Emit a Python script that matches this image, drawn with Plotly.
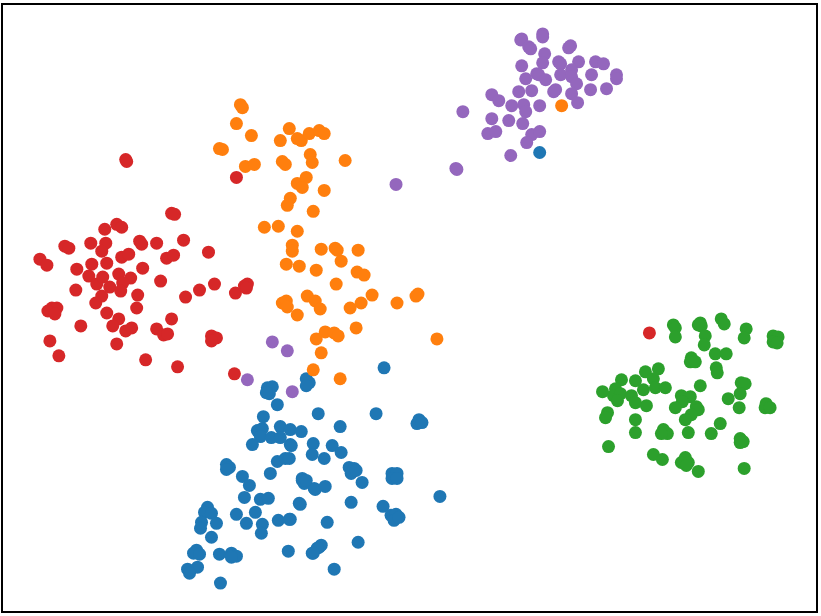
import plotly.graph_objects as go

# embedding coordinates (x right, y down)
blue_x = [268, 273, 270, 267, 307, 310, 307, 278, 264, 319, 258, 263, 261, 272, 281, 281, 291, 302,
          253, 291, 314, 313, 278, 286, 227, 230, 227, 271, 243, 250, 303, 305, 315, 245, 261, 269,
          300, 208, 205, 212, 237, 256, 247, 263, 262, 279, 291, 202, 201, 217, 212, 197, 194, 200,
          220, 232, 237, 232, 289, 313, 320, 188, 198, 190, 221, 385, 377, 420, 418, 423, 341, 292,
          325, 333, 342, 290, 350, 355, 352, 357, 363, 393, 398, 393, 398, 303, 307, 316, 326, 441,
          352, 301, 384, 392, 397, 395, 400, 290, 328, 359, 322, 318, 314, 335, 541]
blue_y = [387, 386, 393, 392, 378, 382, 385, 404, 416, 413, 430, 428, 436, 437, 426, 437, 429, 431,
          444, 444, 443, 454, 461, 458, 464, 467, 469, 473, 476, 485, 478, 483, 488, 497, 499, 498,
          503, 507, 512, 513, 514, 512, 523, 524, 533, 520, 519, 522, 528, 523, 537, 550, 553, 554,
          554, 553, 556, 557, 551, 553, 547, 569, 567, 573, 583, 367, 413, 419, 423, 422, 426, 445,
          458, 445, 452, 458, 467, 468, 473, 470, 482, 473, 473, 478, 478, 480, 480, 489, 486, 496,
          502, 504, 506, 515, 514, 520, 517, 519, 522, 542, 545, 548, 553, 569, 151]

orange_x = [241, 243, 237, 252, 220, 223, 290, 281, 298, 302, 310, 320, 325, 246, 255, 283, 286, 311,
            313, 346, 298, 307, 303, 325, 291, 288, 314, 265, 279, 298, 293, 293, 322, 336, 338, 342,
            359, 287, 300, 317, 358, 365, 337, 373, 398, 417, 419, 283, 287, 288, 308, 316, 321, 298,
            351, 362, 357, 326, 335, 339, 317, 322, 438, 314, 341, 563]
orange_y = [103, 106, 122, 134, 147, 148, 127, 139, 137, 139, 132, 129, 132, 165, 163, 160, 163, 153,
            161, 159, 182, 176, 186, 189, 197, 204, 210, 226, 225, 230, 244, 250, 248, 247, 249, 260,
            249, 263, 265, 269, 271, 274, 283, 294, 302, 295, 293, 302, 300, 306, 295, 300, 308, 314,
            307, 302, 327, 331, 332, 335, 338, 352, 338, 369, 378, 104]

green_x = [675, 677, 677, 702, 703, 700, 723, 726, 748, 746, 775, 780, 775, 779, 707, 706, 717, 728,
           693, 692, 697, 718, 719, 647, 660, 655, 623, 637, 702, 743, 747, 604, 617, 615, 622, 619,
           633, 637, 645, 657, 667, 683, 692, 684, 730, 742, 741, 768, 767, 772, 648, 677, 698, 700,
           609, 607, 693, 687, 637, 637, 722, 665, 669, 663, 690, 713, 742, 745, 742, 610, 655, 664,
           687, 683, 690, 688, 700, 746]
green_y = [324, 327, 336, 322, 325, 324, 318, 323, 328, 337, 335, 336, 341, 342, 335, 344, 353, 353,
           357, 361, 361, 367, 372, 371, 368, 378, 379, 380, 385, 382, 383, 391, 388, 395, 393, 400,
           395, 402, 389, 387, 387, 395, 396, 401, 398, 393, 407, 403, 407, 407, 405, 407, 406, 409,
           412, 417, 414, 419, 419, 432, 423, 429, 433, 433, 432, 433, 438, 441, 442, 446, 454, 459,
           457, 462, 462, 465, 471, 468]

red_x = [126, 127, 105, 117, 122, 65, 69, 91, 106, 102, 140, 142, 122, 129, 40, 47, 77, 92, 89, 97,
         103, 107, 119, 131, 123, 110, 121, 143, 76, 102, 96, 138, 137, 52, 57, 48, 55, 107, 119, 113,
         126, 132, 81, 50, 117, 59, 146, 172, 175, 157, 184, 167, 174, 209, 161, 215, 200, 186, 236,
         245, 248, 247, 172, 157, 164, 168, 212, 217, 212, 178, 235, 237, 651]
red_y = [158, 160, 228, 223, 226, 245, 247, 242, 242, 250, 240, 243, 256, 253, 258, 264, 268, 263, 275,
         283, 276, 262, 273, 277, 282, 286, 290, 267, 289, 295, 302, 294, 307, 307, 307, 310, 313, 312,
         318, 325, 330, 327, 325, 340, 343, 355, 359, 212, 213, 242, 239, 257, 254, 251, 280, 283, 289,
         296, 292, 285, 283, 287, 318, 328, 334, 333, 335, 337, 340, 366, 373, 176, 332]

purple_x = [523, 522, 544, 544, 530, 532, 572, 570, 546, 544, 523, 560, 562, 580, 597, 605, 527, 538,
            540, 547, 562, 573, 573, 578, 593, 618, 618, 533, 520, 555, 557, 573, 592, 608, 493, 500,
            513, 525, 527, 541, 579, 464, 493, 510, 524, 489, 497, 533, 541, 528, 512, 457, 458, 397,
            273, 288, 248, 293]
purple_y = [37, 38, 32, 35, 45, 47, 44, 46, 52, 61, 64, 60, 62, 60, 60, 62, 77, 72, 73, 78, 73, 68, 75,
            82, 73, 73, 77, 89, 90, 90, 88, 92, 88, 87, 93, 99, 104, 103, 110, 104, 101, 110, 117, 119,
            122, 132, 130, 133, 130, 141, 154, 167, 168, 183, 341, 350, 379, 391]

series = [
    ("green", green_x, green_y, "#2ca02c"),
    ("purple", purple_x, purple_y, "#9467bd"),
    ("blue", blue_x, blue_y, "#1f77b4"),
    ("orange", orange_x, orange_y, "#ff7f0e"),
    ("red", red_x, red_y, "#d62728"),
]

fig = go.Figure()
for name, xs, ys, col in series:
    fig.add_trace(go.Scatter(
        x=xs, y=ys, mode="markers", name=name,
        marker=dict(size=13, color=col, line=dict(width=0)),
    ))

axis_style = dict(showgrid=False, zeroline=False, showticklabels=False, ticks="",
                  showline=True, mirror=True, linecolor="black", linewidth=1.5)
fig.update_layout(
    width=821, height=616,
    margin=dict(l=3, r=3, t=3, b=5),
    paper_bgcolor="white", plot_bgcolor="white",
    showlegend=False,
    xaxis=dict(range=[3, 818], **axis_style),
    yaxis=dict(range=[611, 3], **axis_style),
)

# drop the page's default body margin so the figure sits at the window corner
fig.write_html("out.html", config={"displayModeBar": False},
               post_script="document.body.style.margin='0';")
